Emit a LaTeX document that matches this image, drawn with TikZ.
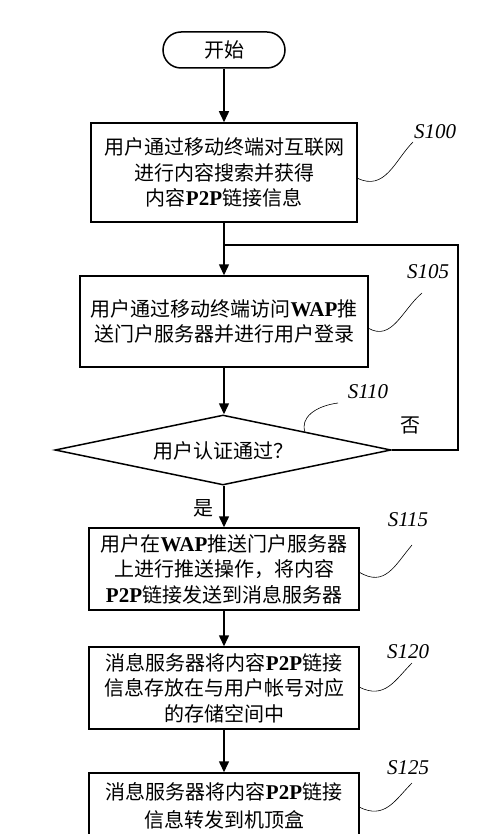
\documentclass[tikz,border=0pt]{standalone}
\usepackage{fontspec}
\setmainfont{Liberation Serif}
\newfontfamily\cjk{Noto Sans CJK SC}
\newfontfamily\tnr{Liberation Serif}
\newcommand{\lb}[1]{{\tnr\bfseries\fontsize{21}{26}\selectfont #1}}
\usetikzlibrary{arrows.meta,shapes.geometric}
\tikzset{
  box/.style={draw, line width=1.5pt, rectangle, align=center, inner sep=0pt,
    font=\cjk\fontsize{20}{25.5}\selectfont},
  term/.style={draw, line width=1.5pt, rectangle, rounded corners=18pt, inner sep=0pt,
    font=\cjk\fontsize{20}{25.5}\selectfont, minimum width=122pt, minimum height=36pt},
  dec/.style={draw, line width=1.5pt, diamond, inner sep=0pt,
    font=\cjk\fontsize{20}{25.5}\selectfont, minimum width=336pt, minimum height=70pt},
  arr/.style={line width=1.5pt, -{Triangle[length=11pt,width=10pt]}},
  ln/.style={line width=1.5pt},
  lead/.style={line width=0.6pt},
  steplabel/.style={font=\tnr\itshape\fontsize{21}{24}\selectfont, inner sep=0pt},
  cjklabel/.style={font=\cjk\fontsize{20}{24}\selectfont, inner sep=0pt}
}
\begin{document}
\begin{tikzpicture}[x=1pt,y=-1pt]
\useasboundingbox (0,0) rectangle (500,834);
\clip (0,0) rectangle (500,834);
\fill[white] (0,0) rectangle (500,834);

\node[term] (start) at (224,50) {开始};
\node[box, minimum width=266pt, minimum height=99pt] (b100) at (224,172.5)
  {用户通过移动终端对互联网\\进行内容搜索并获得\\内容\lb{P2P}链接信息};
\node[box, minimum width=288pt, minimum height=91pt] (b105) at (224,321.5)
  {用户通过移动终端访问\lb{WAP}推\\送门户服务器并进行用户登录};
\node[dec] (d110) at (223,450) {};
\node[cjklabel] (q) at (223,451) {用户认证通过？};
\node[box, minimum width=270pt, minimum height=82pt] (b115) at (224,569)
  {用户在\lb{WAP}推送门户服务器\\上进行推送操作，将内容\\\lb{P2P}链接发送到消息服务器};
\node[box, minimum width=270pt, minimum height=82pt] (b120) at (224,688)
  {消息服务器将内容\lb{P2P}链接\\信息存放在与用户帐号对应\\的存储空间中};
\node[box, minimum width=270pt, minimum height=90pt, text depth=0pt] (b125) at (224,818)
  {};
\node[font=\cjk\fontsize{20}{27.5}\selectfont, align=center, inner sep=0pt] (t125) at (224,806)
  {消息服务器将内容\lb{P2P}链接\\信息转发到机顶盒};

% connectors
\draw[arr] (start.south) -- (b100.north);
\draw[arr] (b100.south) -- (b105.north);
\draw[arr] (b105.south) -- (d110.north -| b105.south);
\draw[arr] (d110.south -| b115.north) -- (b115.north);
\draw[arr] (b115.south) -- (b120.north);
\draw[arr] (b120.south) -- (b125.north);
\coordinate (loopR) at (458,245);
\coordinate (join) at (224,245);
\draw[ln] (d110.east) -| (loopR) -- (join);

\node[cjklabel] (no) at (410,425) {否};
\node[cjklabel] (yes) at (203,508) {是};

% step labels and leaders
\node[steplabel] (s100) at (435,132) {S100};
\node[steplabel] (s105) at (428,272) {S105};
\node[steplabel] (s110) at (368,392) {S110};
\node[steplabel] (s115) at (408,520) {S115};
\node[steplabel] (s120) at (408,652) {S120};
\node[steplabel] (s125) at (408,768) {S125};

\coordinate (e100) at (357,178);
\coordinate (e105) at (368,328);
\coordinate (e110) at (305,432);
\coordinate (e115) at (359,572);
\coordinate (e120) at (359,687);
\coordinate (e125) at (359,807);

\draw[lead] (e100) .. controls (385,192) and (395,160) .. (413,142);
\draw[lead] (e105) .. controls (392,342) and (402,310) .. (422,293);
\draw[lead] (e110) .. controls (300,418) and (315,406) .. (338,403);
\draw[lead] (e115) .. controls (385,588) and (395,565) .. (412,545);
\draw[lead] (e120) .. controls (385,700) and (395,680) .. (412,663);
\draw[lead] (e125) .. controls (385,820) and (395,800) .. (412,783);
\end{tikzpicture}
\end{document}
